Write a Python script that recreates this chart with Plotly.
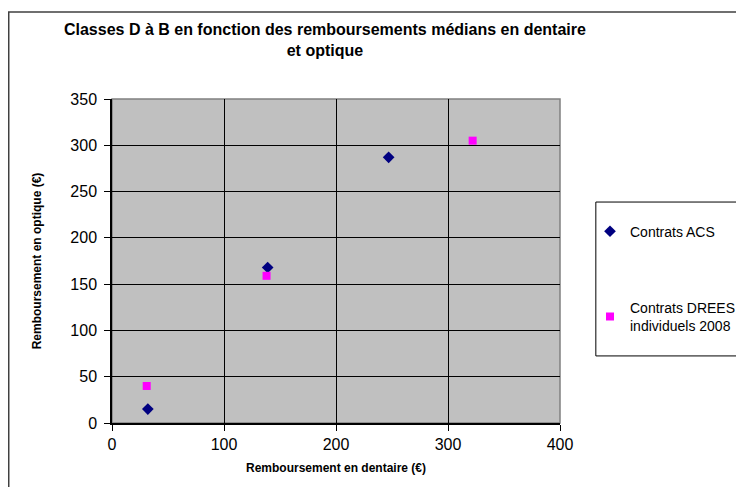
import plotly.graph_objects as go

# data
acs_dentaire = [32, 139, 247]
acs_optique = [15, 168, 287]
drees_dentaire = [31, 138, 322]
drees_optique = [40, 159, 305]

x_ticks = [0, 100, 200, 300, 400]
y_ticks = [0, 50, 100, 150, 200, 250, 300, 350]

font_family = "Liberation Sans, Arial, sans-serif"

fig = go.Figure()

fig.add_trace(go.Scatter(
    x=acs_dentaire, y=acs_optique,
    mode="markers",
    name="Contrats ACS",
    legendgroup="acs",
    marker=dict(symbol="diamond", size=9, color="#000080"),
))
fig.add_trace(go.Scatter(
    x=drees_dentaire, y=drees_optique,
    mode="markers",
    name="Contrats DREES<br>individuels 2008",
    legendgroup="drees",
    marker=dict(symbol="square", size=8, color="#FF00FF"),
))

# page has an 8px body margin, so the plot area sits at 104..553 x 91..415 in figure px
fig.update_layout(
    width=744,
    height=487,
    margin=dict(l=104, r=191, t=91, b=72),
    paper_bgcolor="white",
    plot_bgcolor="#C0C0C0",
    font=dict(family=font_family, color="black"),
    title=dict(
        text="<b>Classes D à B en fonction des remboursements médians en dentaire<br>et optique</b>",
        x=0.426, xanchor="center",
        y=0.944, yanchor="top",
        font=dict(size=16, family=font_family),
    ),
    showlegend=True,
    legend=dict(
        x=1.0646, xanchor="left",
        y=0.640, yanchor="top",
        bgcolor="rgba(0,0,0,0)",
        font=dict(size=14, family=font_family),
        tracegroupgap=55,
        itemwidth=30,
    ),
    shapes=[
        # outer chart border
        dict(type="rect", xref="paper", yref="paper",
             x0=-0.2305, x1=1.5, y0=-0.3, y1=1.2685,
             line=dict(color="#404040", width=1.5), layer="below"),
        # legend box
        dict(type="rect", xref="paper", yref="paper",
             x0=1.080, x1=1.5, y0=0.207, y1=0.682,
             line=dict(color="black", width=1), fillcolor="white", layer="below"),
        # plot area border (top / right in grey)
        dict(type="rect", xref="paper", yref="paper",
             x0=0, x1=1, y0=0, y1=1,
             line=dict(color="#808080", width=1.5), layer="below"),
    ],
)

fig.update_xaxes(
    range=[0, 400],
    tickvals=x_ticks,
    ticks="outside", ticklen=6, tickcolor="black",
    showgrid=True, gridcolor="black", gridwidth=1,
    showline=True, linecolor="black", linewidth=1.5,
    zeroline=False,
    tickfont=dict(size=16),
    title=dict(text="<b>Remboursement en dentaire (€)</b>", font=dict(size=12), standoff=12),
)
fig.update_yaxes(
    range=[0, 350],
    tickvals=y_ticks,
    ticks="outside", ticklen=6, tickcolor="black",
    showgrid=True, gridcolor="black", gridwidth=1,
    showline=True, linecolor="black", linewidth=1.5,
    zeroline=False,
    tickfont=dict(size=16),
    ticklabelstandoff=4,
    title=dict(text="<b>Remboursement en optique (€)</b>", font=dict(size=12), standoff=26),
)

fig.write_html("out.html")
